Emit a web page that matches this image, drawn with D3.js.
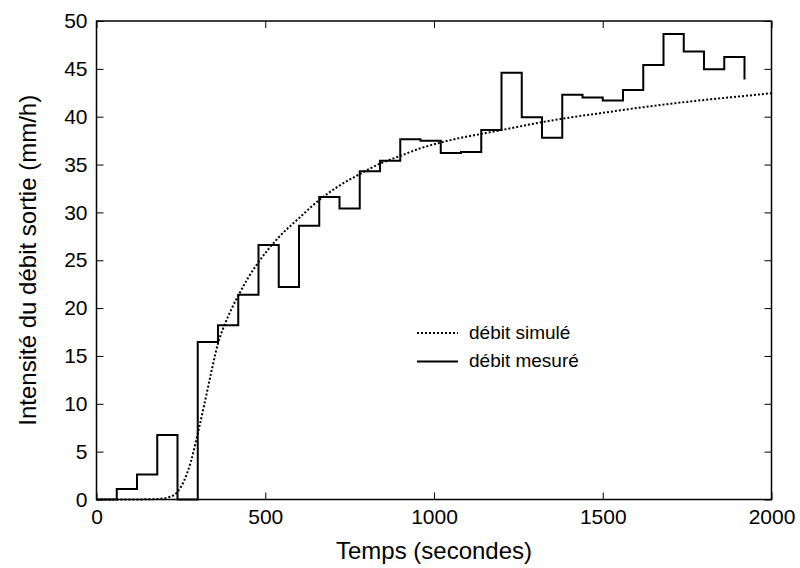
<!DOCTYPE html>
<html>
<head>
<meta charset="utf-8">
<script src="https://cdn.jsdelivr.net/npm/d3@7"></script>
<style>
  body { margin: 0; background: #fff; }
  text { font-family: "Liberation Sans", Arial, sans-serif; fill: #000; }
</style>
</head>
<body>
<svg id="chart" width="800" height="568"></svg>
<script>
// measured outflow, 60 s steps (value holds from t until next t)
const stepTimes = [0, 60, 120, 180, 240, 300, 360, 420, 480, 540, 600, 660, 720, 780, 840, 900,
                   960, 1020, 1080, 1140, 1200, 1260, 1320, 1380, 1440, 1500, 1560, 1620, 1680,
                   1740, 1800, 1860, 1920];
const stepValues = [0, 1.1, 2.6, 6.75, 0, 16.45, 18.2, 21.4, 26.6, 22.2, 28.6, 31.6, 30.4, 34.3, 35.4, 37.65,
                    37.5, 36.2, 36.3, 38.6, 44.6, 39.95, 37.8, 42.3, 42.0, 41.7, 42.8, 45.4, 48.65,
                    46.8, 44.95, 46.25, 43.9];

// simulated outflow
const simTimes = [0, 100, 180, 220, 240, 260, 280, 300, 320, 340, 360, 380, 400, 420, 450, 480,
                  540, 600, 660, 720, 780, 840, 900, 960, 1020, 1080, 1140, 1200, 1300, 1400,
                  1500, 1600, 1700, 1800, 1900, 2000];
const simValues = [0, 0, 0.05, 0.3, 0.8, 2.0, 4.0, 6.9, 10.0, 13.3, 16.3, 18.3, 19.9, 21.3, 23.2, 24.8,
                   27.4, 29.4, 31.3, 32.8, 34.0, 35.1, 35.9, 36.7, 37.3, 37.8, 38.2, 38.6, 39.3, 39.9,
                   40.4, 40.9, 41.35, 41.75, 42.1, 42.45];

const xTicks = [0, 500, 1000, 1500, 2000];
const yTicks = [0, 5, 10, 15, 20, 25, 30, 35, 40, 45, 50];

const legendLabels = ["débit simulé", "débit mesuré"];

const margin = { top: 21, right: 28.5, bottom: 68.5, left: 96.5 };
const width = 800 - margin.left - margin.right;
const height = 568 - margin.top - margin.bottom;

const svg = d3.select("#chart");
const g = svg.append("g")
    .attr("transform", `translate(${margin.left},${margin.top})`);

const x = d3.scaleLinear().domain([0, 2000]).range([0, width]);
const y = d3.scaleLinear().domain([0, 50]).range([height, 0]);

// axes, ticks pointing inward on all four sides
const tickLen = 7;
function styleAxis(sel) {
    sel.selectAll(".domain").remove();
    sel.selectAll(".tick line").attr("stroke", "#000").attr("stroke-width", 1);
    sel.selectAll(".tick text").style("font-size", "21px");
}

g.append("g")
    .attr("transform", `translate(0,${height})`)
    .call(d3.axisBottom(x).tickValues(xTicks).tickFormat(d3.format("d"))
        .tickSizeInner(-tickLen).tickSizeOuter(0).tickPadding(10))
    .call(styleAxis);

g.append("g")
    .call(d3.axisLeft(y).tickValues(yTicks).tickSizeInner(-tickLen).tickSizeOuter(0).tickPadding(9))
    .call(styleAxis);

g.append("g")
    .call(d3.axisTop(x).tickValues(xTicks).tickSizeInner(-tickLen).tickSizeOuter(0).tickFormat(""))
    .call(styleAxis);

g.append("g")
    .attr("transform", `translate(${width},0)`)
    .call(d3.axisRight(y).tickValues(yTicks).tickSizeInner(-tickLen).tickSizeOuter(0).tickFormat(""))
    .call(styleAxis);

// frame
g.append("rect")
    .attr("width", width)
    .attr("height", height)
    .attr("fill", "none")
    .attr("stroke", "#000")
    .attr("stroke-width", 1.5);

// lines
const simData = simTimes.map((t, i) => ({ t: t, v: simValues[i] }));
const stepData = stepTimes.map((t, i) => ({ t: t, v: stepValues[i] }));

g.append("path")
    .datum(simData)
    .attr("fill", "none")
    .attr("stroke", "#000")
    .attr("stroke-width", 2)
    .attr("stroke-dasharray", "2,2")
    .attr("d", d3.line().x(d => x(d.t)).y(d => y(d.v)).curve(d3.curveMonotoneX));

g.append("path")
    .datum(stepData)
    .attr("fill", "none")
    .attr("stroke", "#000")
    .attr("stroke-width", 2)
    .attr("d", d3.line().x(d => x(d.t)).y(d => y(d.v)).curve(d3.curveStepAfter));

// axis titles
svg.append("text")
    .attr("x", margin.left + width / 2)
    .attr("y", 559)
    .attr("text-anchor", "middle")
    .style("font-size", "24px")
    .text("Temps (secondes)");

svg.append("text")
    .attr("transform", `translate(36,${margin.top + height / 2}) rotate(-90)`)
    .attr("text-anchor", "middle")
    .style("font-size", "24px")
    .text("Intensité du débit sortie (mm/h)");

// legend
const legend = svg.append("g").attr("transform", "translate(417,333)");
legendLabels.forEach((label, i) => {
    legend.append("line")
        .attr("x1", 0).attr("x2", 41)
        .attr("y1", i * 28.5).attr("y2", i * 28.5)
        .attr("stroke", "#000")
        .attr("stroke-width", 2)
        .attr("stroke-dasharray", i === 0 ? "2,2" : null);
    legend.append("text")
        .attr("x", 52)
        .attr("y", i * 28.5 - 1)
        .attr("dy", "0.35em")
        .style("font-size", "19px")
        .text(label);
});
</script>
</body>
</html>
